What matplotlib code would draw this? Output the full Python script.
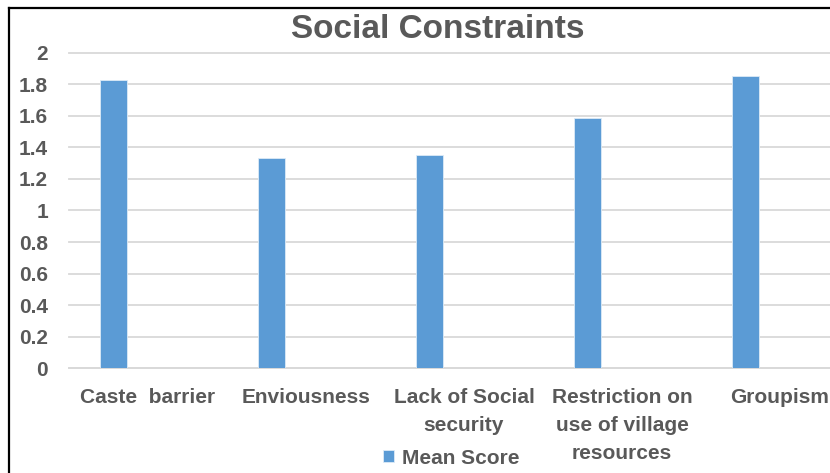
import matplotlib
matplotlib.use("Agg")
import matplotlib.pyplot as plt
from matplotlib.lines import Line2D
import numpy as np

categories = [
    "Caste  barrier",
    "Enviousness",
    "Lack of Social\nsecurity",
    "Restriction on\nuse of village\nresources",
    "Groupism",
]
mean_score = [1.83, 1.333, 1.35, 1.586, 1.85]
y_ticks = [0, 0.2, 0.4, 0.6, 0.8, 1, 1.2, 1.4, 1.6, 1.8, 2]
y_tick_labels = ["0", "0.2", "0.4", "0.6", "0.8", "1", "1.2", "1.4", "1.6", "1.8", "2"]

BAR_COLOR = "#5B9BD5"
TEXT_COLOR = "#595959"
GRID_COLOR = "#D9D9D9"

plt.rcParams["font.family"] = ["Liberation Sans", "DejaVu Sans"]

fig = plt.figure(figsize=(8.3, 4.73), dpi=100)
ax = fig.add_axes([69 / 830, 1 - 368.3 / 473, 790 / 830, (368.3 - 52.7) / 473])

x = np.arange(len(categories))
ax.bar(x - 0.218, mean_score, width=0.171, color=BAR_COLOR,
       edgecolor="#DDEBF7", linewidth=0.6, label="Mean Score", zorder=3)

ax.set_xlim(-0.5, len(categories) - 0.5)
ax.set_ylim(0, 2)
ax.set_yticks(y_ticks)
ax.set_yticklabels(y_tick_labels, fontsize=15, fontweight="bold", color=TEXT_COLOR)
ax.set_xticks(x)
ax.set_xticklabels(categories, fontsize=15, fontweight="bold", color=TEXT_COLOR,
                   linespacing=1.62, va="top")
ax.tick_params(axis="y", length=0, pad=15)
ax.tick_params(axis="x", length=0, pad=14)

ax.grid(axis="y", color=GRID_COLOR, linewidth=1.3, zorder=0)
for ln in ax.get_ygridlines():
    ln.set_clip_on(False)
for side in ["top", "right", "left"]:
    ax.spines[side].set_visible(False)
ax.spines["bottom"].set_color(GRID_COLOR)
ax.spines["bottom"].set_linewidth(1.3)

fig.text(438 / 830, 1 - 29 / 473, "Social Constraints", ha="center", va="center",
         fontsize=24, fontweight="bold", color=TEXT_COLOR)

leg = fig.legend(loc="center", bbox_to_anchor=(451 / 830, 1 - 458 / 473), frameon=False,
                 prop={"size": 15, "weight": "bold"}, handlelength=0.55, handleheight=0.55,
                 handletextpad=0.35)
for t in leg.get_texts():
    t.set_color(TEXT_COLOR)

# chart border (cropped on right and bottom)
fig.add_artist(Line2D([9 / 830, 1], [1 - 8 / 473, 1 - 8 / 473], color="black", linewidth=1.6))
fig.add_artist(Line2D([9 / 830, 9 / 830], [0, 1 - 8 / 473], color="black", linewidth=1.6))

fig.savefig("out.png", dpi=100)
